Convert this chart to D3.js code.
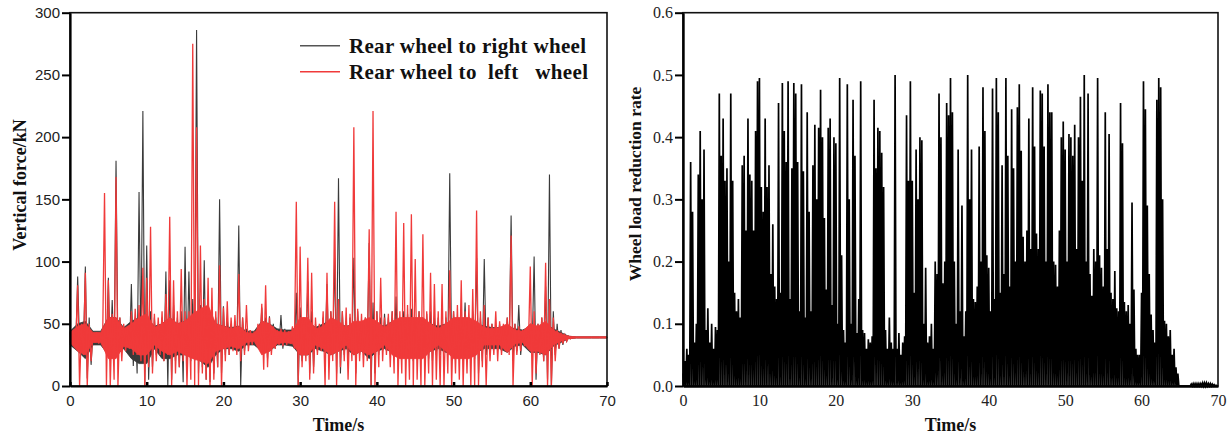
<!DOCTYPE html>
<html>
<head>
<meta charset="utf-8">
<script src="https://cdn.jsdelivr.net/npm/d3@7"></script>
<style>
  html, body { margin: 0; padding: 0; background: #fff; }
  svg { display: block; }
</style>
</head>
<body>
<script>
// ---------------- DATA ----------------
const timeTicks = [0, 10, 20, 30, 40, 50, 60, 70];
const forceTicks = [0, 50, 100, 150, 200, 250, 300];
const rateTicks = [0, 0.1, 0.2, 0.3, 0.4, 0.5, 0.6];
const seriesNames = ["Rear wheel to right wheel", "Rear wheel to  left   wheel"];

// Left chart: per 0.5 s window, upper and lower extremes of the force signal (kN)
const forceStep = 0.5;
const rightWheelHi = [43,44,88,48,96,55,44,43,42,48,87,69,181,55,48,47,82,55,156,221,113,60,55,50,55,92,85,65,55,60,112,92,70,286,65,101,70,60,55,150,64,55,50,52,129,55,46,45,44,45,63,55,56,50,45,57,46,45,47,75,63,55,84,60,50,48,55,82,60,103,167,60,50,55,103,60,50,55,115,67,60,55,58,55,60,72,55,60,58,62,55,60,55,58,60,56,55,50,55,171,60,55,52,67,55,60,103,55,102,55,50,48,50,48,55,137,50,65,45,46,50,104,50,55,80,170,60,50,45,42,40,39,39,39,39,39,39,39,39,39,39];
const rightWheelLo = [35,34,33,30,6,17,33,34,35,30,20,22,25,28,32,25,16,10,25,0,5,15,25,28,20,0,5,20,15,3,15,20,20,10,15,5,3,10,15,10,25,25,30,30,0,28,32,33,34,33,30,22,28,30,33,30,33,33,32,0,20,25,10,15,28,30,28,20,25,10,10,25,20,30,10,25,30,28,0,10,25,28,28,28,25,20,25,22,25,20,25,22,25,22,20,25,25,28,25,20,25,25,28,22,25,22,10,20,25,28,30,30,28,30,28,20,28,25,33,32,30,5,28,20,5,0,25,30,33,36,38,39,39,39,39,39,39,39,39,39,39];
const leftWheelHi = [42,44,81,50,91,50,42,43,42,155,85,58,168,55,50,48,60,62,65,95,87,128,58,55,60,74,136,85,60,94,60,60,275,208,113,70,87,79,60,97,63,68,55,57,90,55,65,45,44,50,66,81,55,48,45,46,45,44,48,148,112,55,103,91,55,50,60,91,60,148,70,60,63,58,208,62,58,55,126,221,60,87,55,58,60,140,60,131,65,138,102,60,122,60,91,82,60,82,60,93,60,65,85,60,65,78,141,60,65,55,50,60,52,50,55,121,50,48,45,46,96,60,50,55,99,70,55,45,43,41,40,39,39,39,39,39,39,39,39,39,39];
const leftWheelLo = [35,33,0,25,0,20,35,34,35,0,0,5,0,20,28,30,25,25,20,0,15,10,20,25,20,25,0,10,15,20,0,5,0,0,10,5,0,5,15,0,20,25,28,25,20,25,28,33,34,30,13,15,25,30,33,32,33,34,30,0,15,20,5,10,25,28,0,5,20,0,15,20,5,20,0,20,15,20,0,0,15,20,25,15,10,0,10,0,5,0,5,0,0,10,0,5,0,0,10,0,10,5,0,10,0,0,0,15,0,20,25,20,25,28,25,0,25,28,32,30,0,10,25,20,0,0,20,30,34,36,38,39,39,39,39,39,39,39,39,39,39];

// Left chart: per 1 s, range of the dense (core) oscillation band (kN)
const coreStep = 1;
const rightCoreHi = [44,50,52,44,44,55,55,47,52,55,55,48,50,55,50,52,55,58,60,50,48,47,48,44,44,52,50,46,45,45,52,52,47,50,52,50,48,50,50,52,50,48,52,52,52,52,52,50,48,50,52,52,52,50,48,47,47,48,46,45,48,47,50,46,43,40,39.5,39.5,39.5,39.5,39.5];
const rightCoreLo = [33,28,22,33,33,25,25,30,22,18,18,30,22,22,25,25,25,20,15,25,30,30,28,33,33,28,28,33,33,32,25,25,30,28,25,28,30,25,28,22,28,30,27,27,27,27,27,28,30,27,27,27,27,27,30,30,30,27,32,33,27,27,25,32,35,38,38.5,38.5,38.5,38.5,38.5];
const leftCoreHi = [43,48,50,43,43,55,55,46,50,55,58,47,50,55,50,52,58,62,65,50,48,46,48,43,42,52,50,44,43,44,55,55,46,48,55,52,47,52,52,55,52,47,52,55,55,55,55,50,46,50,55,55,55,52,47,46,47,50,45,44,50,48,52,45,42,40,39.5,39.5,39.5,39.5,39.5];
const leftCoreLo = [35,28,25,35,35,22,22,32,30,25,25,33,28,25,28,25,22,20,18,28,30,32,30,35,36,25,28,34,35,34,25,25,33,30,25,28,33,25,28,25,28,33,25,22,22,22,22,28,33,28,22,22,22,25,33,33,33,27,34,35,28,28,25,33,36,38,38.5,38.5,38.5,38.5,38.5];

// Right chart: per 0.25 s window, peak of the wheel load reduction rate
const rateStep = 0.25;
const reductionPeak = [
0.02,0.04,0.06,0.05,0.36,0.28,0.07,0.10,0.34,0.41,0.30,0.38,0.09,0.125,0.07,0.10,0.06,0.095,0.09,0.47,
0.37,0.43,0.33,0.35,0.20,0.47,0.33,0.15,0.12,0.14,0.11,0.355,0.37,0.25,0.43,0.34,0.33,0.25,0.41,0.49,
0.495,0.32,0.28,0.43,0.32,0.355,0.18,0.26,0.16,0.14,0.455,0.15,0.487,0.41,0.36,0.49,0.14,0.35,0.487,0.47,
0.36,0.12,0.485,0.345,0.11,0.44,0.28,0.12,0.355,0.42,0.30,0.415,0.476,0.40,0.27,0.155,0.415,0.43,0.13,0.40,
0.39,0.10,0.495,0.21,0.09,0.07,0.485,0.30,0.10,0.46,0.37,0.085,0.14,0.49,0.09,0.085,0.06,0.075,0.07,0.08,
0.46,0.35,0.415,0.41,0.375,0.32,0.09,0.06,0.11,0.07,0.06,0.50,0.06,0.085,0.05,0.07,0.08,0.435,0.33,0.49,
0.33,0.15,0.38,0.30,0.40,0.395,0.10,0.19,0.07,0.08,0.10,0.06,0.20,0.18,0.47,0.40,0.165,0.20,0.455,0.435,
0.495,0.44,0.20,0.10,0.38,0.12,0.29,0.08,0.12,0.50,0.30,0.38,0.14,0.135,0.16,0.385,0.20,0.48,0.41,0.21,
0.19,0.12,0.478,0.14,0.495,0.44,0.15,0.355,0.18,0.495,0.37,0.16,0.445,0.35,0.20,0.448,0.485,0.378,0.24,0.20,
0.25,0.43,0.22,0.48,0.385,0.245,0.22,0.475,0.47,0.385,0.20,0.485,0.44,0.44,0.20,0.195,0.16,0.25,0.40,0.425,
0.38,0.20,0.405,0.40,0.37,0.42,0.22,0.40,0.465,0.33,0.50,0.20,0.47,0.18,0.145,0.22,0.20,0.495,0.21,0.19,
0.16,0.44,0.22,0.405,0.15,0.14,0.185,0.125,0.12,0.455,0.39,0.135,0.12,0.13,0.10,0.295,0.155,0.06,0.05,0.05,
0.15,0.49,0.445,0.29,0.18,0.115,0.09,0.07,0.46,0.495,0.48,0.30,0.105,0.10,0.08,0.09,0.05,0.06,0.03,0.02,
0.0,0.0,0.0,0.0,0.0,0.0,0.003,0.004,0.004,0.004,0.004,0.004,0.005,0.005,0.005,0.004,0.004,0.003,0.002,0.001,
0.0];
const reductionTrough = 0;

// ---------------- DRAW ----------------
const W = 1230, H = 439;
const svg = d3.select("body").append("svg").attr("width", W).attr("height", H);

const serif = "'Liberation Serif', 'Times New Roman', serif";
const sans = "'Liberation Sans', Arial, sans-serif";
const RED = "#f03a3a", DARK = "#3a3a3a";

function envelopePoints(hi, lo, step) {
  const pts = [];
  hi.forEach((h, i) => {
    pts.push([i * step, h]);
    if (i < hi.length - 1) pts.push([i * step + step / 2, lo[i]]);
  });
  return pts;
}

// ---- Left chart ----
const L = {x0: 70, x1: 607, y0: 386, y1: 12.7};
const xL = d3.scaleLinear().domain([0, 70]).range([L.x0, L.x1]);
const yL = d3.scaleLinear().domain([0, 300]).range([L.y0, L.y1]);

const gL = svg.append("g");
const lineL = d3.line().x(d => xL(d[0])).y(d => yL(d[1]));
const areaL = d3.area().x((d, i) => xL(i * coreStep)).y0(d => yL(d[0])).y1(d => yL(d[1]));

// right wheel (dark)
gL.append("path").attr("d", areaL(rightCoreLo.map((v, i) => [v, rightCoreHi[i]])))
  .attr("fill", DARK).attr("stroke", DARK).attr("stroke-width", 0.8);
gL.append("path")
  .attr("d", lineL(envelopePoints(rightWheelHi, rightWheelLo, forceStep)))
  .attr("fill", "none").attr("stroke", DARK).attr("stroke-width", 1.1);
// left wheel (red)
gL.append("path").attr("d", areaL(leftCoreLo.map((v, i) => [v, leftCoreHi[i]])))
  .attr("fill", RED).attr("stroke", RED).attr("stroke-width", 0.8);
gL.append("path")
  .attr("d", lineL(envelopePoints(leftWheelHi, leftWheelLo, forceStep)))
  .attr("fill", "none").attr("stroke", RED).attr("stroke-width", 1.3);

// frame
gL.append("rect").attr("x", L.x0).attr("y", L.y1).attr("width", L.x1 - L.x0).attr("height", L.y0 - L.y1)
  .attr("fill", "none").attr("stroke", "#111").attr("stroke-width", 1.6);

const axBL = gL.append("g").attr("transform", `translate(0,${L.y0})`)
  .call(d3.axisBottom(xL).tickValues(timeTicks).tickSizeInner(-4).tickSizeOuter(0).tickPadding(9));
axBL.select(".domain").attr("stroke", "#000").attr("stroke-width", 2.2);
axBL.selectAll(".tick line").attr("stroke", "#000").attr("stroke-width", 2.5);
axBL.selectAll(".tick text").attr("font-family", sans).attr("font-size", 15).attr("fill", "#222");

const axLL = gL.append("g").attr("transform", `translate(${L.x0},0)`)
  .call(d3.axisLeft(yL).tickValues(forceTicks).tickSizeInner(8).tickSizeOuter(0).tickPadding(2));
axLL.select(".domain").attr("stroke", "#000").attr("stroke-width", 2.2);
axLL.selectAll(".tick line").attr("stroke", "#000").attr("stroke-width", 2);
axLL.selectAll(".tick text").attr("font-family", sans).attr("font-size", 15).attr("fill", "#222");

gL.append("text").attr("x", (L.x0 + L.x1) / 2).attr("y", 431)
  .attr("text-anchor", "middle").attr("font-family", serif).attr("font-weight", "bold")
  .attr("font-size", 18).attr("fill", "#111").text("Time/s");
gL.append("text").attr("transform", `translate(26,185) rotate(-90)`)
  .attr("text-anchor", "middle").attr("font-family", serif).attr("font-weight", "bold")
  .attr("font-size", 18).attr("fill", "#111").text("Vertical force/kN");

// legend
const legColors = ["#555", RED];
seriesNames.forEach((name, i) => {
  const ly = 45.7 + i * 26;
  gL.append("line").attr("x1", 300).attr("x2", 340).attr("y1", ly).attr("y2", ly)
    .attr("stroke", legColors[i]).attr("stroke-width", 1.5);
  gL.append("text").attr("x", 349).attr("y", ly + 7.5)
    .attr("font-family", serif).attr("font-weight", "bold").attr("font-size", 21)
    .attr("fill", "#111").style("white-space", "pre")
    .attr("textLength", i === 0 ? 237 : 239).attr("lengthAdjust", "spacing")
    .text(name);
});

// ---- Right chart ----
const R = {x0: 683, x1: 1218, y0: 386, y1: 12.7};
const xR = d3.scaleLinear().domain([0, 70]).range([R.x0, R.x1]);
const yR = d3.scaleLinear().domain([0, 0.6]).range([R.y0, R.y1]);
const gR = svg.append("g");
const lineR = d3.line().x(d => xR(d[0])).y(d => yR(d[1]));

const ratePts = [];
reductionPeak.forEach((v, i) => {
  ratePts.push([i * rateStep, v]);
  if (i < reductionPeak.length - 1) ratePts.push([i * rateStep + rateStep / 2, reductionTrough]);
});
gR.append("path").attr("d", lineR(ratePts))
  .attr("fill", "none").attr("stroke", "#000").attr("stroke-width", 1.7);

gR.append("rect").attr("x", R.x0).attr("y", R.y1).attr("width", R.x1 - R.x0).attr("height", R.y0 - R.y1)
  .attr("fill", "none").attr("stroke", "#111").attr("stroke-width", 1.6);

const axBR = gR.append("g").attr("transform", `translate(0,${R.y0})`)
  .call(d3.axisBottom(xR).tickValues(timeTicks).tickSize(0).tickPadding(9));
axBR.select(".domain").attr("stroke", "#000").attr("stroke-width", 2.4);
axBR.selectAll(".tick text").attr("font-family", serif).attr("font-size", 16).attr("fill", "#222");

const axLR = gR.append("g").attr("transform", `translate(${R.x0},0)`)
  .call(d3.axisLeft(yR).tickValues(rateTicks).tickFormat(d3.format(".1f")).tickSizeInner(8).tickSizeOuter(0).tickPadding(2));
axLR.select(".domain").attr("stroke", "#000").attr("stroke-width", 2.4);
axLR.selectAll(".tick line").attr("stroke", "#000").attr("stroke-width", 2);
axLR.selectAll(".tick text").attr("font-family", serif).attr("font-size", 16).attr("fill", "#222");

gR.append("text").attr("x", (R.x0 + R.x1) / 2).attr("y", 431)
  .attr("text-anchor", "middle").attr("font-family", serif).attr("font-weight", "bold")
  .attr("font-size", 18).attr("fill", "#111").text("Time/s");
gR.append("text").attr("transform", `translate(641,184) rotate(-90)`)
  .attr("text-anchor", "middle").attr("font-family", serif).attr("font-weight", "bold")
  .attr("font-size", 17.5).attr("fill", "#111").text("Wheel load reduction rate");
</script>
</body>
</html>
